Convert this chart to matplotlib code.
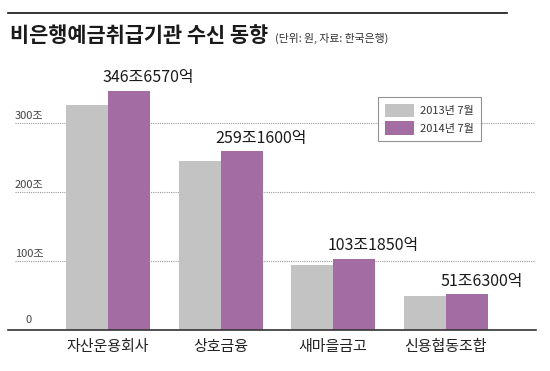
import matplotlib
matplotlib.use("Agg")
import matplotlib.pyplot as plt
from matplotlib.patches import Patch
import numpy as np

plt.rcParams['font.family'] = ['Noto Sans CJK KR', 'DejaVu Sans']

categories = ["자산운용회사", "상호금융", "새마을금고", "신용협동조합"]
series_names = ["2013년 7월", "2014년 7월"]
values_2013 = [326, 245, 94, 49]
values_2014 = [346.657, 259.16, 103.185, 51.63]
value_labels = ["346조6570억", "259조1600억", "103조1850억", "51조6300억"]
yticks = [0, 100, 200, 300]
ytick_labels = ["0", "100조", "200조", "300조"]
title = "비은행예금취급기관 수신 동향"
subtitle = "(단위: 원, 자료: 한국은행)"

W, H = 550, 371
fig = plt.figure(figsize=(W / 100, H / 100), dpi=100)

def fx(px):
    return px / W

def fy(py):
    return (H - py) / H

gray = "#c3c3c3"
purple = "#a36ca3"

# axes: left 8px, right 536px, bottom 330px, top 60px
ax = fig.add_axes([fx(8), fy(330), fx(536) - fx(8), fy(60) - fy(330)])
px_per_group = 112.6
bw = 42 / px_per_group
x = np.arange(len(categories))
ax.set_xlim((8 - 108) / px_per_group, (536 - 108) / px_per_group)
ax.set_ylim(0, 270 / 0.69)

for s in ["top", "right", "left"]:
    ax.spines[s].set_visible(False)
ax.spines["bottom"].set_color("#333333")
ax.spines["bottom"].set_linewidth(1.2)
ax.set_xticks([])
ax.set_yticks([])

# gridlines
for t in yticks[1:]:
    ax.axhline(t, xmin=(15 - 8) / 528, xmax=(535 - 8) / 528, color="#9a9a9a",
               linestyle=(0, (1, 1)), linewidth=0.8, zorder=0)

ax.bar(x - bw / 2, values_2013, width=bw, color=gray, zorder=2)
ax.bar(x + bw / 2, values_2014, width=bw, color=purple, zorder=2)

# value labels
for xi, v, lab in zip(x, values_2014, value_labels):
    ax.annotate(lab, xy=(xi - 0.01, v), xytext=(-4, 13), textcoords="offset pixels",
                ha="left", va="center", fontsize=11.5, color="#1a1a1a")

# y tick labels
for t, lab in zip(yticks, ytick_labels):
    if t == 0:
        ax.annotate(lab, xy=(0, 0), xycoords=("figure pixels", "data"),
                    xytext=(29, 10), textcoords="offset pixels",
                    ha="center", va="center", fontsize=8, color="#444444")
    else:
        ax.annotate(lab, xy=(0, t), xycoords=("figure pixels", "data"),
                    xytext=(15, 7), textcoords="offset pixels",
                    ha="left", va="center", fontsize=8, color="#444444")

# category labels
for xi, c in zip(x, categories):
    t = ax.text(xi, -17 / 0.69, c, transform=ax.transData, ha="center", va="center",
                fontsize=10.8, color="#222222")
    t.set_clip_on(False)

# legend
handles = [Patch(facecolor=gray, edgecolor="none"), Patch(facecolor=purple, edgecolor="none")]
leg = ax.legend(handles, series_names, loc="upper left",
                bbox_to_anchor=(fx(378), fy(97)), bbox_transform=fig.transFigure,
                fontsize=8, frameon=True, fancybox=False, edgecolor="#777777",
                handlelength=2.6, handleheight=1.5, handletextpad=0.6,
                labelspacing=0.35, borderpad=0.6, borderaxespad=0)
leg.get_frame().set_linewidth(0.8)
for t in leg.get_texts():
    t.set_color("#333333")

# top rule
fig.add_artist(plt.Line2D([fx(8), fx(507)], [fy(13), fy(13)], color="#111111", linewidth=1.2))

# title
fig.text(fx(10), fy(36), title, fontsize=15, fontweight="heavy", ha="left", va="center",
         color="#1a1a1a")
fig.text(fx(275), fy(38), subtitle, fontsize=7.8, ha="left", va="center", color="#333333")

fig.savefig("out.png", dpi=100)
